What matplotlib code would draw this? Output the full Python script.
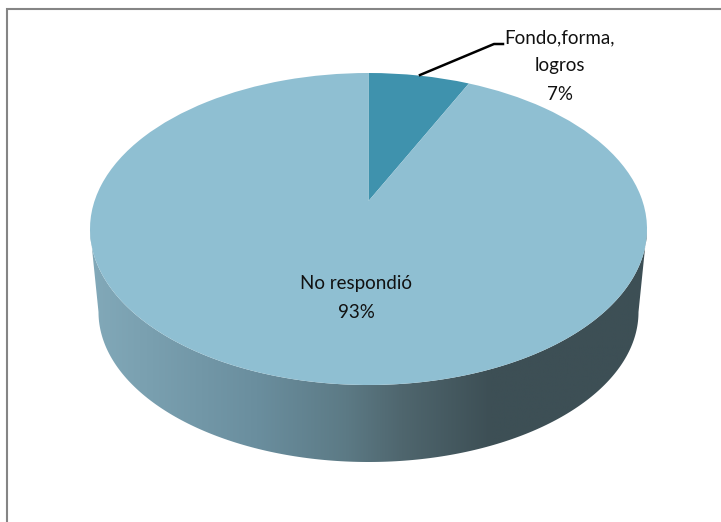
import numpy as np
import matplotlib
matplotlib.use('Agg')
from matplotlib import pyplot as plt
from matplotlib.colors import LinearSegmentedColormap
from matplotlib.patches import Polygon
from matplotlib.transforms import Transform

plt.rcParams['font.family'] = ['Lato', 'DejaVu Sans']

labels = ['Fondo,forma,\nlogros', 'No respondió']
values = [7, 93]
colors = ['#3f92ad', '#8fbfd2']

W, H = 721, 522
CX, CY = 368.5, 229  # centro de la elipse superior, en pixeles
RX, RY = 278.5, 156
APEX_Y = 201  # el vertice de las porciones queda mas arriba por la perspectiva


def px(x, y):
    # pixeles de la imagen -> coordenadas del pastel
    return (x - CX) / RX, (CY - y) / RY


class Persp(Transform):
    input_dims = 2
    output_dims = 2

    def __init__(self, a):
        super().__init__()
        self.a = a

    def transform_non_affine(self, xy):
        xy = np.asarray(xy)
        d = 1 + self.a * xy[:, 1]
        return np.column_stack([xy[:, 0] * np.sqrt(1 - self.a ** 2) / d,
                                (xy[:, 1] + self.a) / d])


fig = plt.figure(figsize=(W / 100, H / 100), dpi=100)
ax = fig.add_axes([0, 0, 1, 1])

# lado del cilindro con degradado
t = np.linspace(0, np.pi, 200)
top_edge = np.column_stack([CX - RX * np.cos(t), CY + RY * np.sin(t)])
bottom_edge = np.column_stack([CX + 270 * np.cos(t), 312 + 150 * np.sin(t)])
side = np.vstack([top_edge, bottom_edge])
side = np.column_stack(px(side[:, 0], side[:, 1]))

cmap = LinearSegmentedColormap.from_list('side', [
    (0.0, '#82a9b9'), (0.3, '#6a8e9e'), (0.46, '#5c7a85'),
    (0.56, '#4f666e'), (0.72, '#3d4f55'), (1.0, '#3d4f55')])
x0, _ = px(90, 0)
x1, _ = px(647, 0)
y0 = px(0, 470)[1]
y1 = px(0, 225)[1]
im = ax.imshow(np.linspace(0, 1, 256).reshape(1, -1), cmap=cmap, aspect='auto',
               extent=(x0, x1, y0, y1), zorder=1)
clip = Polygon(side, closed=True, transform=ax.transData, fc='none', ec='none')
ax.add_patch(clip)
im.set_clip_path(clip)

wedges, _ = ax.pie(values, colors=colors, startangle=90, counterclock=False,
                   radius=1, wedgeprops={'linewidth': 0, 'zorder': 2})
persp = Persp((CY - APEX_Y) / RY)
for w in wedges:
    w.set_transform(persp + ax.transData)

ax.set_aspect('auto')
ax.set_xlim(px(0, 0)[0], px(W, 0)[0])
ax.set_ylim(px(0, H)[1], px(0, 0)[1])
ax.axis('off')

# marco del grafico
fx, fy = px(np.array([7, 7, W]), np.array([H, 9, 9]))
ax.plot(fx, fy, color='#858585', lw=1.5, zorder=3, solid_joinstyle='miter')

# etiquetas
ax.text(*px(356, 298), f'{labels[1]}\n{values[1]}%', ha='center', va='center',
        fontsize=13.5, linespacing=1.83, color='#111111', zorder=5)
ax.text(*px(560, 66), f'{labels[0]}\n{values[0]}%', ha='center', va='center',
        fontsize=13.5, linespacing=1.83, color='#111111', zorder=5)

lx, ly = px(np.array([420, 494, 503]), np.array([75, 44, 44]))
ax.plot(lx, ly, color='black', lw=1.8, zorder=4)

fig.savefig('out.png', dpi=100)
